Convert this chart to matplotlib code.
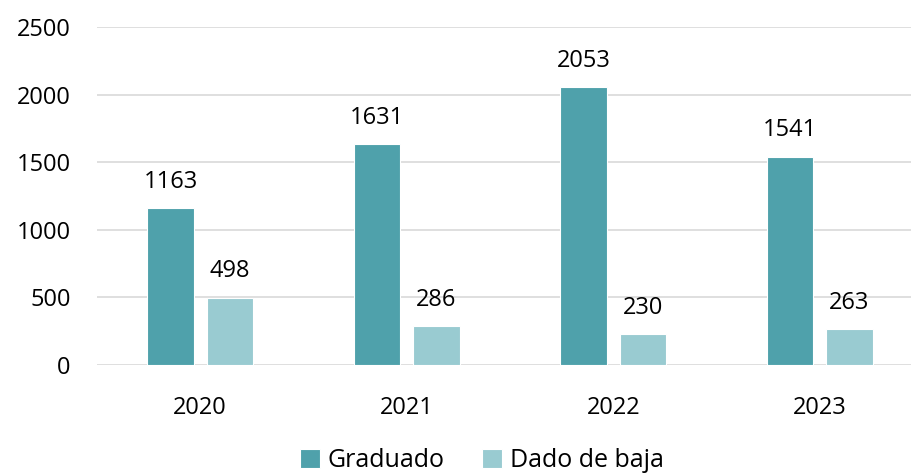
import matplotlib.pyplot as plt
import numpy as np

# Datos
anios = ['2020', '2021', '2022', '2023']
graduado = [1163, 1631, 2053, 1541]
dado_baja = [498, 286, 230, 263]

plt.rcParams['font.family'] = ['Open Sans', 'DejaVu Sans']

fig = plt.figure(figsize=(9.12, 4.74), dpi=100)
# ejes: izquierda ~97px, y=0 en 365px, y=2500 en 27px
ax = fig.add_axes([97/912, (474-365)/474, 826/912, 338/474])

x = np.arange(len(anios))
w = 0.225
off = 0.143
b1 = ax.bar(x - off, graduado, w, color='#4FA1AB', edgecolor='white', linewidth=0.8,
            label='Graduado', zorder=3)
b2 = ax.bar(x + off, dado_baja, w, color='#99CBD1', edgecolor='white', linewidth=0.8,
            label='Dado de baja', zorder=3)

# etiquetas de valores
for rects, vals in [(b1, graduado), (b2, dado_baja)]:
    for r, v in zip(rects, vals):
        ax.text(r.get_x() + r.get_width()/2, v + 105, str(v), ha='center', va='bottom',
                fontsize=17, color='black')

ax.set_xlim(-0.5, 3.5)
ax.set_ylim(0, 2500)
ax.set_yticks([0, 500, 1000, 1500, 2000, 2500])
ax.set_xticks(x)
ax.set_xticklabels(anios)
ax.tick_params(axis='both', length=0, labelsize=17, colors='black')
ax.tick_params(axis='x', pad=22)
ax.tick_params(axis='y', pad=19)

ax.grid(axis='y', color='#D9D9D9', linewidth=1.2, zorder=0)
for s in ax.spines.values():
    s.set_visible(False)

fig.legend(handles=[b1, b2], loc='lower center', bbox_to_anchor=(482/912, -0.045),
           ncol=2, frameon=False, fontsize=18, handlelength=0.8, handleheight=0.8,
           handletextpad=0.3, columnspacing=1.5)

fig.savefig('out.png', dpi=100)
